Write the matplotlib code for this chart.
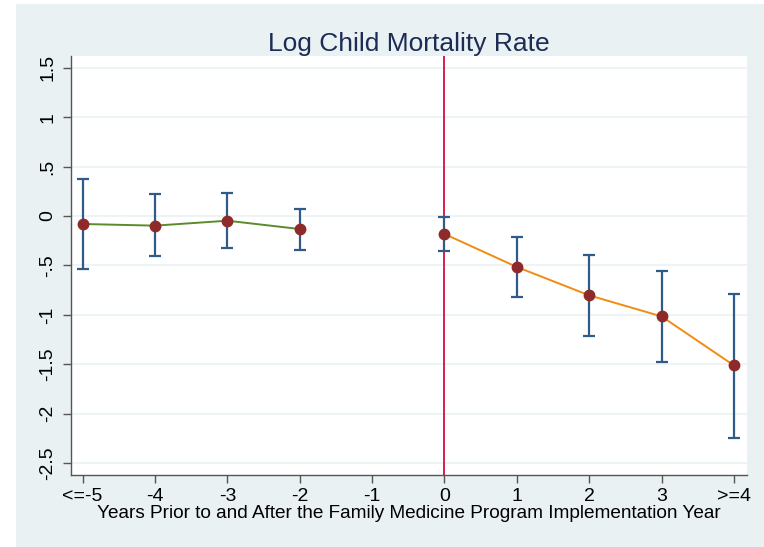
import numpy as np
import matplotlib.pyplot as plt
from matplotlib.patches import Rectangle

plt.rcParams['font.family'] = ['Liberation Sans', 'DejaVu Sans']

# --- Data ---
pre_x = [-5, -4, -3, -2]
pre_est = [-0.081, -0.098, -0.048, -0.132]
pre_hi = [0.378, 0.219, 0.229, 0.073]
pre_lo = [-0.533, -0.409, -0.324, -0.342]

post_x = [0, 1, 2, 3, 4]
post_est = [-0.182, -0.516, -0.803, -1.016, -1.512]
post_hi = [-0.010, -0.213, -0.395, -0.554, -0.789]
post_lo = [-0.358, -0.820, -1.211, -1.478, -2.241]

xticks = [-5, -4, -3, -2, -1, 0, 1, 2, 3, 4]
xlabels = ['<=-5', '-4', '-3', '-2', '-1', '0', '1', '2', '3', '>=4']
yticks = [1.5, 1, 0.5, 0, -0.5, -1, -1.5, -2, -2.5]
ylabels = ['1.5', '1', '.5', '0', '-.5', '-1', '-1.5', '-2', '-2.5']

# --- Figure ---
W, H = 764, 547
fig = plt.figure(figsize=(W / 100, H / 100), dpi=100)
fig.patch.set_facecolor('white')
fig.patches.append(Rectangle((16 / W, 0), 1, (H - 4) / H, transform=fig.transFigure,
                             facecolor='#eaf1f3', edgecolor='none', zorder=-10))

ax = fig.add_axes([71 / W, (H - 475) / H, (747 - 71) / W, (475 - 56) / H])
ax.set_facecolor('white')

ax.axvline(0, color='#d81e4a', lw=1.4, zorder=2)

err_col = '#2e5b88'
pt_col = '#8e2a2a'

for xs, est, lo, hi, lc in [(pre_x, pre_est, pre_lo, pre_hi, '#5c8a2c'),
                            (post_x, post_est, post_lo, post_hi, '#f08c12')]:
    est = np.array(est)
    yerr = [est - np.array(lo), np.array(hi) - est]
    ax.errorbar(xs, est, yerr=yerr, fmt='none', ecolor=err_col, elinewidth=1.6,
                capsize=4, capthick=1.6, zorder=3)
    ax.plot(xs, est, color=lc, lw=1.4, zorder=4)
    ax.plot(xs, est, 'o', color=pt_col, ms=7.5, mec=pt_col, zorder=5)

ax.set_xlim(-5.16, 4.18)
ax.set_ylim(-2.62, 1.618)
ax.set_xticks(xticks)
ax.set_xticklabels(xlabels)
ax.set_yticks(yticks)
ax.set_yticklabels(ylabels, rotation=90, va='center')

ax.grid(axis='y', color='#eaf2f4', lw=1.2)
ax.set_axisbelow(True)
for s in ['top', 'right']:
    ax.spines[s].set_visible(False)
for s in ['left', 'bottom']:
    ax.spines[s].set_color('#555555')
    ax.spines[s].set_linewidth(1.0)
ax.tick_params(axis='both', colors='#555555', labelcolor='black', labelsize=14,
               length=5.5, width=1.0)
ax.tick_params(axis='x', pad=4)
ax.tick_params(axis='y', pad=5)

ax.set_xlabel('Years Prior to and After the Family Medicine Program Implementation Year',
              fontsize=13.7, labelpad=0)
ax.set_title('Log Child Mortality Rate', fontsize=19, color='#1c2c55', pad=3)

fig.savefig('out.png', dpi=100)
